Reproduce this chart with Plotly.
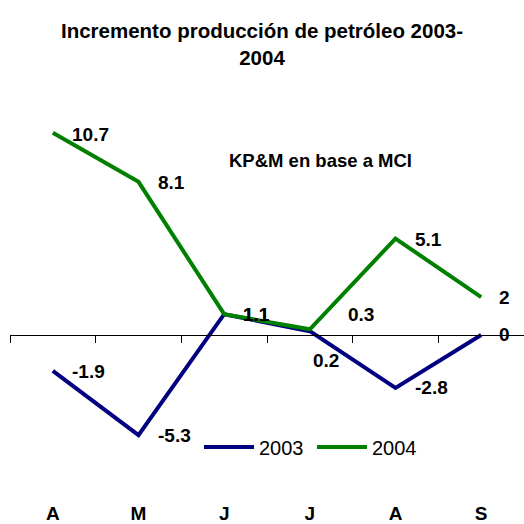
import plotly.graph_objects as go

months = ["A", "M", "J", "J", "A", "S"]
series_2003 = [-1.9, -5.3, 1.1, 0.2, -2.8, 0.0]
series_2004 = [10.7, 8.1, 1.1, 0.3, 5.1, 2.0]
labels_2003 = ["-1.9", "-5.3", "1.1", "0.2", "-2.8", "0"]
labels_2004 = ["10.7", "8.1", "1.1", "0.3", "5.1", "2"]

# label offsets (pixels), styling only
shift_2003 = [(17, -1), (17, 0), (17, 0), (1, -29), (17, 0), (16, 0)]
shift_2004 = [(17, -2), (17, -1), (17, 0), (36, 15), (17, -1), (16, 0)]

FONT = "Liberation Sans, Arial, sans-serif"
NAVY = "#000080"
GREEN = "#008000"

x = list(range(len(months)))
ymin, ymax = -8.73, 12.43
zero_pos = (0 - ymin) / (ymax - ymin)

fig = go.Figure()
fig.add_trace(go.Scatter(x=x, y=series_2003, mode="lines", name="2003",
                         line=dict(color=NAVY, width=4), xaxis="x", yaxis="y"))
fig.add_trace(go.Scatter(x=x, y=series_2004, mode="lines", name="2004",
                         line=dict(color=GREEN, width=4), xaxis="x", yaxis="y"))

annotations = []
for vals, labs, shifts in ((series_2003, labels_2003, shift_2003),
                           (series_2004, labels_2004, shift_2004)):
    for xi, v, t, (dx, dy) in zip(x, vals, labs, shifts):
        annotations.append(dict(x=xi, y=v, xref="x", yref="y", text=t,
                                showarrow=False, xanchor="left", yanchor="middle",
                                xshift=dx, yshift=dy,
                                font=dict(family=FONT, size=19, color="black", weight="bold")))

annotations.append(dict(x=0.422, y=0.85, xref="paper", yref="paper",
                        text="KP&M en base a MCI", showarrow=False,
                        xanchor="left", yanchor="middle",
                        font=dict(family=FONT, size=18.5, color="black", weight="bold")))

fig.update_layout(
    width=524, height=524,
    margin=dict(l=10, r=0, t=100, b=24),
    paper_bgcolor="white", plot_bgcolor="white",
    title=dict(text="Incremento producción de petróleo 2003-<br>2004",
               x=0.5, xref="container", xanchor="center",
               y=1 - 38 / 524, yref="container", yanchor="top",
               font=dict(family=FONT, size=20.5, color="black", weight="bold")),
    xaxis=dict(range=[-0.5, 5.5], tickmode="array", tickvals=x, ticktext=months,
               showline=False, showgrid=False, zeroline=False, ticks="",
               tickfont=dict(family=FONT, size=19, color="black", weight="bold")),
    xaxis2=dict(range=[-0.5, 5.5], overlaying="x", anchor="free", position=zero_pos,
                side="bottom", showline=True, linecolor="black", linewidth=1,
                tickmode="array", tickvals=[i - 0.5 for i in range(len(months) + 1)],
                ticks="outside", ticklen=7, tickcolor="black", tickwidth=1,
                showticklabels=False, showgrid=False, zeroline=False),
    yaxis=dict(range=[ymin, ymax], visible=False, showgrid=False, zeroline=False),
    legend=dict(orientation="h", x=(199 - 10) / 514, xanchor="left", y=0.1325, yanchor="middle",
                itemwidth=50, entrywidth=48, entrywidthmode="pixels",
                font=dict(family=FONT, size=20, color="black"),
                bgcolor="rgba(0,0,0,0)"),
    annotations=annotations,
)
# dummy trace to activate xaxis2
fig.add_trace(go.Scatter(x=[None], y=[None], xaxis="x2", yaxis="y", showlegend=False,
                         hoverinfo="skip"))

fig.write_html("out.html", config={"displayModeBar": False},
               post_script="document.body.style.margin='0';document.body.style.overflow='hidden';")
